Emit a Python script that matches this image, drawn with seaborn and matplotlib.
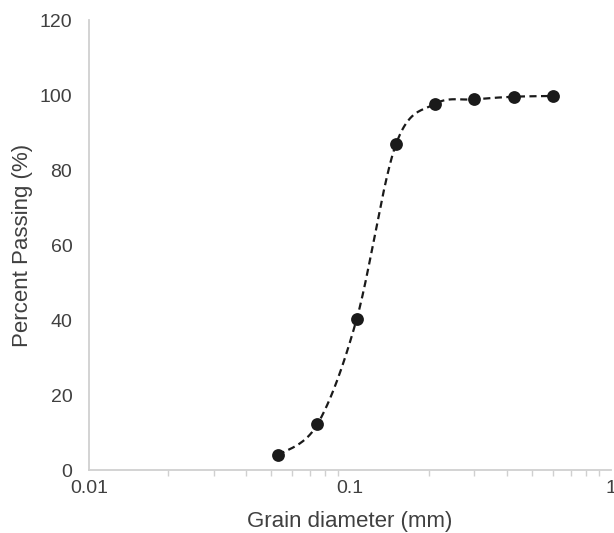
import numpy as np
import pandas as pd
import matplotlib
matplotlib.use("Agg")
import matplotlib.pyplot as plt
import matplotlib.ticker as mticker
import seaborn as sns

# Data
diameters = [0.053, 0.075, 0.106, 0.15, 0.212, 0.3, 0.425, 0.6]
passing = [4.0, 12.2, 40.2, 86.9, 97.7, 98.9, 99.6, 99.8]
x_label = "Grain diameter (mm)"
y_label = "Percent Passing (%)"
x_ticks = [0.01, 0.1, 1]
x_ticklabels = ["0.01", "0.1", "1"]
y_ticks = [0, 20, 40, 60, 80, 100, 120]

sns.set_theme(style="white")
plt.rcParams['font.family'] = ['Liberation Sans', 'DejaVu Sans']

fig = plt.figure(figsize=(6.14, 5.33), dpi=100)
ax = fig.add_axes([0.145, 0.118, 0.85, 0.844])

# Smoothed curve (Catmull-Rom style, like spreadsheet "smoothed line"), in (log10 x, y) space scaled to display aspect
lx = np.log10(np.array(diameters))
yy = np.array(passing)
sx = 261.0  # px per decade
sy = 3.75   # px per percent
P = np.column_stack([lx * sx, yy * sy])
curve = []
n = len(P)
for i in range(n - 1):
    p0 = P[i - 1] if i > 0 else P[i]
    p1 = P[i]
    p2 = P[i + 1]
    p3 = P[i + 2] if i + 2 < n else P[i + 1]
    c1 = p1 + (p2 - p0) / 6.0
    c2 = p2 - (p3 - p1) / 6.0
    t = np.linspace(0, 1, 40)[:, None]
    seg = (1 - t) ** 3 * p1 + 3 * (1 - t) ** 2 * t * c1 + 3 * (1 - t) * t ** 2 * c2 + t ** 3 * p2
    curve.append(seg if i == 0 else seg[1:])
curve = np.vstack(curve)
cdf = pd.DataFrame({"x": 10 ** (curve[:, 0] / sx), "y": curve[:, 1] / sy})
pdf = pd.DataFrame({"x": diameters, "y": passing})

sns.lineplot(data=cdf, x="x", y="y", sort=False, ax=ax, color="#1a1a1a",
             linewidth=1.6, dashes=False, estimator=None)
ax.lines[-1].set_dashes((3.2, 2.0))
sns.scatterplot(data=pdf, x="x", y="y", ax=ax, color="#1a1a1a", s=85,
                edgecolor="#1a1a1a", linewidth=0, zorder=3)

ax.set_xscale("log")
ax.set_xlim(0.01, 1)
ax.set_ylim(0, 120)
ax.set_xticks(x_ticks)
ax.set_xticklabels(x_ticklabels)
ax.xaxis.set_minor_locator(mticker.LogLocator(base=10, subs=np.arange(2, 10)))
ax.xaxis.set_minor_formatter(mticker.NullFormatter())
ax.set_yticks(y_ticks)

for s in ["top", "right"]:
    ax.spines[s].set_visible(False)
for s in ["left", "bottom"]:
    ax.spines[s].set_color("#d0d0d0")
    ax.spines[s].set_linewidth(1.3)

ax.tick_params(axis="x", which="major", direction="out", length=0, pad=7,
               labelsize=14, labelcolor="#404040")
ax.tick_params(axis="x", which="minor", direction="out", length=4, width=1,
               color="#d0d0d0", bottom=True)
ax.tick_params(axis="y", length=0, pad=12, labelsize=14, labelcolor="#404040")

ax.set_xlabel(x_label, fontsize=16, color="#404040", labelpad=10)
ax.set_ylabel(y_label, fontsize=16, color="#404040", labelpad=5)

fig.savefig("out.png", dpi=100)
